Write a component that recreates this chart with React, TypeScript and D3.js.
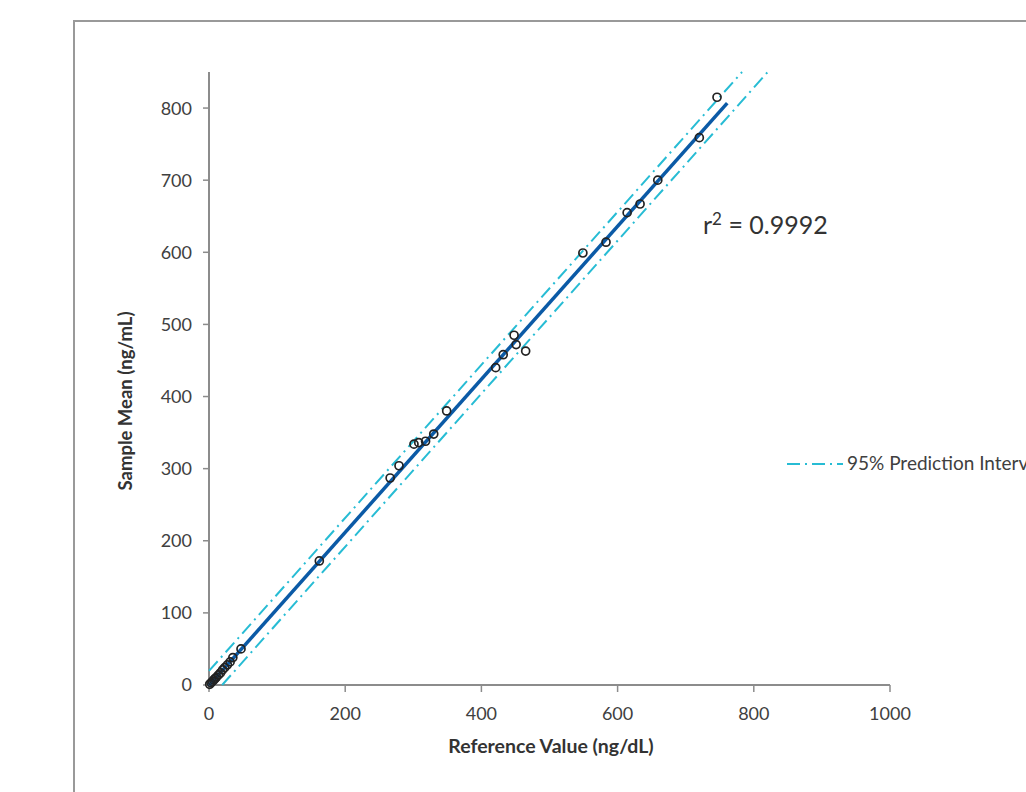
import React from "react";
import * as d3 from "d3";

const refValues = [1, 3, 5, 7, 9, 11, 14, 17, 20, 23, 27, 31, 35, 47, 162, 266, 279, 301, 308, 318, 330, 349, 421, 432, 448, 451, 465, 549, 583, 614, 633, 659, 720, 746];
const sampleMeans = [1, 3, 5, 7, 9, 11, 14, 17, 21, 24, 28, 32, 38, 50, 172, 287, 304, 334, 336, 338, 348, 380, 440, 458, 485, 472, 463, 599, 614, 655, 667, 700, 759, 815];
const xTicks = [0, 200, 400, 600, 800, 1000];
const yTicks = [0, 100, 200, 300, 400, 500, 600, 700, 800];
const fitSlope = [1.061];
const fitIntercept = [-0.5];
const predictionHalfWidth = [20];
const fitRange = [0, 761];
const legendLabel = "95% Prediction Interval";

export default function App() {
  const W = 1026, H = 792;
  const x = d3.scaleLinear().domain([0, 1000]).range([209, 890]);
  const y = d3.scaleLinear().domain([0, 850]).range([685, 72]);
  const slope = fitSlope[0], icpt = fitIntercept[0], pw = predictionHalfWidth[0];
  const line = d3.line<[number, number]>().x(d => x(d[0])).y(d => y(d[1]));
  const fitPts: [number, number][] = fitRange.map(v => [v, slope * v + icpt]);
  const upX1 = (850 - icpt - pw) / slope;
  const upperPts: [number, number][] = [[0, icpt + pw], [upX1, 850]];
  const loX0 = (0 - icpt + pw) / slope;
  const loX1 = (850 - icpt + pw) / slope;
  const lowerPts: [number, number][] = [[loX0, 0], [loX1, 850]];
  const piColor = "#27bcd4";
  const dashArr = "13,5,2,5";
  const font = "Lato, 'Open Sans', 'Liberation Sans', sans-serif";
  const axisColor = "#8c8c8c";
  return (
    <svg width={W} height={H} style={{ position: "absolute", left: 0, top: 0, background: "#fff" }} fontFamily={font}>
      <rect x={0} y={0} width={W} height={H} fill="#fff" />
      <path d={`M74,${H} V21 H${W}`} fill="none" stroke="#999" strokeWidth={2} />
      <line x1={x(0)} x2={x(0)} y1={y(850)} y2={y(0)} stroke={axisColor} strokeWidth={2} />
      <line x1={x(0)} x2={x(1000)} y1={y(0)} y2={y(0)} stroke={axisColor} strokeWidth={2} />
      {yTicks.map(t => (
        <g key={"y" + t}>
          <line x1={x(0) - 6} x2={x(0)} y1={y(t)} y2={y(t)} stroke={axisColor} strokeWidth={1.5} />
          <text x={x(0) - 17} y={y(t)} dy="0.36em" textAnchor="end" fontSize={18} fill="#404040">{t}</text>
        </g>
      ))}
      {xTicks.map(t => (
        <g key={"x" + t}>
          <line x1={x(t)} x2={x(t)} y1={y(0)} y2={y(0) + 7} stroke={axisColor} strokeWidth={1.5} />
          <text x={x(t)} y={y(0) + 35} textAnchor="middle" fontSize={18} fill="#404040">{t}</text>
        </g>
      ))}
      <path d={line(upperPts) || ""} fill="none" stroke={piColor} strokeWidth={2} strokeDasharray={dashArr} />
      <path d={line(lowerPts) || ""} fill="none" stroke={piColor} strokeWidth={2} strokeDasharray={dashArr} />
      <path d={line(fitPts) || ""} fill="none" stroke="#0b5aa6" strokeWidth={3.5} />
      {refValues.map((v, i) => (
        <circle key={i} cx={x(v)} cy={y(sampleMeans[i])} r={4} fill="none" stroke="#222" strokeWidth={1.7} />
      ))}
      <text x={703} y={234} fontSize={25} fill="#333">
        r<tspan dy={-9} fontSize={17}>2</tspan><tspan dy={9}> = 0.9992</tspan>
      </text>
      <line x1={787} x2={843} y1={464} y2={464} stroke={piColor} strokeWidth={2} strokeDasharray={dashArr} />
      <text x={847} y={470} fontSize={19} fill="#404040">{legendLabel}</text>
      <text x={551} y={753} textAnchor="middle" fontSize={19.5} fontWeight="bold" fill="#333">Reference Value (ng/dL)</text>
      <text transform={`translate(132,401) rotate(-90)`} textAnchor="middle" fontSize={18.5} fontWeight="bold" fill="#333">Sample Mean (ng/mL)</text>
    </svg>
  );
}
